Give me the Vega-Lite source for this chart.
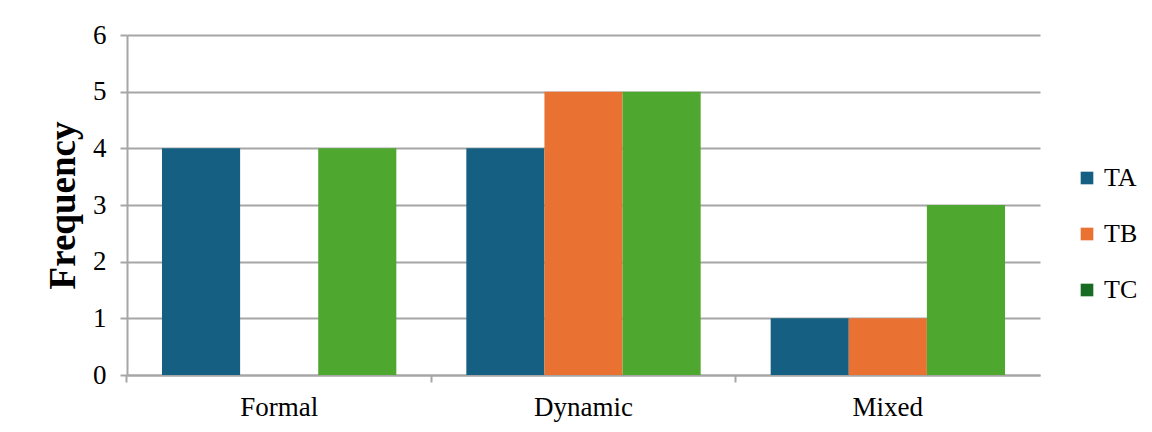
{
  "$schema": "https://vega.github.io/schema/vega-lite/v6.json",
  "autosize": {"type": "none"},
  "padding": {"left": 127, "top": 35, "right": 112, "bottom": 57},
  "width": 913,
  "height": 340,
  "background": "white",
  "config": {
    "view": {"stroke": null},
    "font": "Liberation Serif",
    "axis": {"labelFont": "Liberation Serif", "titleFont": "Liberation Serif", "labelColor": "black", "titleColor": "black"},
    "legend": {"labelFont": "Liberation Serif", "titleFont": "Liberation Serif"}
  },
  "data": {
    "values": [
      {"category": "Formal", "series": "TA", "value": 4},
      {"category": "Formal", "series": "TB", "value": 0},
      {"category": "Formal", "series": "TC", "value": 4},
      {"category": "Dynamic", "series": "TA", "value": 4},
      {"category": "Dynamic", "series": "TB", "value": 5},
      {"category": "Dynamic", "series": "TC", "value": 5},
      {"category": "Mixed", "series": "TA", "value": 1},
      {"category": "Mixed", "series": "TB", "value": 1},
      {"category": "Mixed", "series": "TC", "value": 3}
    ]
  },
  "layer": [
    {
      "mark": {"type": "bar", "opacity": 0},
      "encoding": {
        "x": {
          "field": "category", "type": "nominal", "sort": ["Formal", "Dynamic", "Mixed"],
          "scale": {"paddingInner": 0.23, "paddingOuter": 0.115},
          "axis": {"orient": "bottom", "labels": false, "ticks": true, "tickColor": "#a6a6a6", "tickWidth": 2, "tickSize": 7, "bandPosition": -0.15, "domain": true, "domainColor": "#a6a6a6", "domainWidth": 2, "title": null, "grid": false}
        },
        "y": {"field": "value", "type": "quantitative", "scale": {"domain": [0, 6]}},
        "color": {
          "field": "series", "type": "nominal", "sort": ["TA", "TB", "TC"],
          "scale": {"domain": ["TA", "TB", "TC"], "range": ["#156082", "#E97132", "#196B24"]},
          "legend": {"title": null, "orient": "none", "legendX": 947, "legendY": 130, "symbolType": "square", "symbolSize": 160, "symbolStrokeWidth": 0, "symbolOpacity": 1, "labelFontSize": 26, "labelFont": "Liberation Serif", "labelColor": "black", "rowPadding": 30, "labelOffset": 4, "labelFontWeight": "normal", "labelFontStyle": "normal"}
        }
      }
    },
    {
      "mark": {"type": "bar"},
      "encoding": {
        "x": {
          "field": "category", "type": "nominal", "sort": ["Formal", "Dynamic", "Mixed"],
          "scale": {"paddingInner": 0.23, "paddingOuter": 0.115},
          "axis": {"orient": "bottom", "labelAngle": 0, "labelFontSize": 27, "labelPadding": 19, "ticks": false, "domain": false, "title": null, "grid": false}
        },
        "xOffset": {"field": "series", "type": "nominal", "sort": ["TA", "TB", "TC"], "scale": {"paddingInner": 0, "paddingOuter": 0}},
        "y": {
          "field": "value", "type": "quantitative",
          "scale": {"domain": [0, 6]},
          "axis": {"values": [0, 1, 2, 3, 4, 5, 6], "format": "d", "labelFontSize": 27, "labelPadding": 14, "tickSize": 7, "tickColor": "#a6a6a6", "tickWidth": 2, "domainColor": "#a6a6a6", "domainWidth": 2, "gridColor": "#a6a6a6", "gridWidth": 2, "title": "Frequency", "titleFontSize": 37, "titleFontWeight": "bold", "titlePadding": 10}
        },
        "fill": {
          "field": "series", "type": "nominal", "sort": ["TA", "TB", "TC"],
          "scale": {"domain": ["TA", "TB", "TC"], "range": ["#156082", "#E97132", "#4EA72E"]},
          "legend": null
        }
      }
    }
  ],
  "resolve": {"axis": {"x": "independent"}}
}
